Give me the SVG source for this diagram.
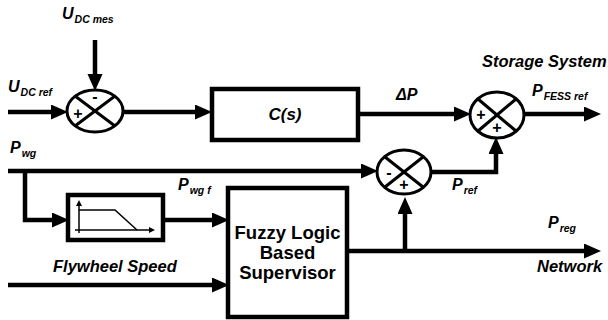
<svg xmlns="http://www.w3.org/2000/svg" width="608" height="320" viewBox="0 0 608 320">
<style>
.w{stroke:#000;stroke-width:4.5;fill:none}
.j{stroke:#000;stroke-width:3;fill:#fff}
.x{stroke:#000;stroke-width:3}
.bx{stroke:#000;stroke-width:4.5;fill:#fff}
.l{font-family:"Liberation Sans",Arial,sans-serif;font-weight:bold;font-style:italic;fill:#000}
.m{font-size:16px}
.s{font-size:10.5px}
.sg{font-family:"Liberation Sans",Arial,sans-serif;font-weight:bold;font-size:16px;text-anchor:middle}
.b{font-family:"Liberation Sans",Arial,sans-serif;font-weight:bold;font-size:18.5px;text-anchor:middle}
</style>
<defs>
<marker id="a" markerUnits="userSpaceOnUse" markerWidth="18" markerHeight="16" refX="8" refY="7.5" orient="auto">
<path d="M0,0 L17,7.5 L0,15 z" fill="#000"/>
</marker>
</defs>
<g id="connectors">
<line class="w" x1="95" y1="40" x2="95" y2="82" marker-end="url(#a)"/>
<line class="w" x1="8" y1="112" x2="59" y2="112" marker-end="url(#a)"/>
<line class="w" x1="123" y1="112" x2="203" y2="112" marker-end="url(#a)"/>
<line class="w" x1="358" y1="114" x2="462" y2="114" marker-end="url(#a)"/>
<line class="w" x1="524" y1="114" x2="592" y2="114" marker-end="url(#a)"/>
<line class="w" x1="8" y1="171" x2="369" y2="171" marker-end="url(#a)"/>
<polyline class="w" points="25,171 25,220 60,220" marker-end="url(#a)"/>
<line class="w" x1="163" y1="220" x2="220" y2="220" marker-end="url(#a)"/>
<line class="w" x1="8" y1="285" x2="220" y2="285" marker-end="url(#a)"/>
<line class="w" x1="347" y1="251" x2="592" y2="251" marker-end="url(#a)"/>
<line class="w" x1="405" y1="251" x2="405" y2="206" marker-end="url(#a)"/>
<polyline class="w" points="431,172 496,172 496,146" marker-end="url(#a)"/>
</g>
<g id="sum1">
<ellipse class="j" cx="95" cy="111" rx="28" ry="21"/>
<line class="x" x1="75" y1="96" x2="115" y2="126"/>
<line class="x" x1="75" y1="126" x2="115" y2="96"/>
<text class="sg" x="95" y="102">-</text>
<text class="sg" x="78" y="119">+</text>
</g>
<g id="sum2">
<ellipse class="j" cx="497" cy="115" rx="27" ry="23"/>
<line class="x" x1="478" y1="99" x2="516" y2="131"/>
<line class="x" x1="478" y1="131" x2="516" y2="99"/>
<text class="sg" x="481" y="120">+</text>
<text class="sg" x="497" y="133">+</text>
</g>
<g id="sum3">
<ellipse class="j" cx="404" cy="172" rx="27" ry="22"/>
<line class="x" x1="385" y1="157" x2="423" y2="187"/>
<line class="x" x1="385" y1="187" x2="423" y2="157"/>
<text class="sg" x="389" y="178">-</text>
<text class="sg" x="404" y="190">+</text>
</g>
<g id="cs">
<rect class="bx" x="212" y="89" width="146" height="51"/>
<text class="l" x="285" y="120" font-size="17" text-anchor="middle">C(s)</text>
</g>
<g id="filter">
<rect class="bx" x="68" y="195" width="95" height="45"/>
<polyline fill="none" stroke="#000" stroke-width="1.5" points="79,210 115,210 137,230"/>
<line stroke="#000" stroke-width="1.5" x1="79" y1="233" x2="79" y2="205"/>
<path d="M76,206 L79,200 L82,206 z"/>
<line stroke="#000" stroke-width="1.5" x1="75" y1="230" x2="150" y2="230"/>
<path d="M149,227 L155,230 L149,233 z"/>
</g>
<g id="fuzzy">
<rect class="bx" x="228" y="188" width="119" height="129"/>
<text class="b" x="287.5" y="239">Fuzzy Logic</text>
<text class="b" x="287.5" y="259">Based</text>
<text class="b" x="287.5" y="279">Supervisor</text>
</g>
<g id="labels">
<text class="l m" x="62" y="19">U<tspan class="s" dy="4" dx="1">DC mes</tspan></text>
<text class="l m" x="8" y="92">U<tspan class="s" dy="4" dx="1">DC ref</tspan></text>
<text class="l m" x="396" y="100">ΔP</text>
<text class="l" x="482" y="67" font-size="16.5">Storage System</text>
<text class="l m" x="532" y="96">P<tspan class="s" dy="4" dx="1">FESS ref</tspan></text>
<text class="l m" x="10" y="153">P<tspan class="s" dy="4" dx="1">wg</tspan></text>
<text class="l m" x="178" y="190">P<tspan class="s" dy="4" dx="1">wg f</tspan></text>
<text class="l m" x="452" y="190">P<tspan class="s" dy="4" dx="1">ref</tspan></text>
<text class="l m" x="548" y="228">P<tspan class="s" dy="4" dx="1">reg</tspan></text>
<text class="l" x="53" y="272" font-size="16.5">Flywheel Speed</text>
<text class="l" x="537" y="272" font-size="16.5">Network</text>
</g>
</svg>
